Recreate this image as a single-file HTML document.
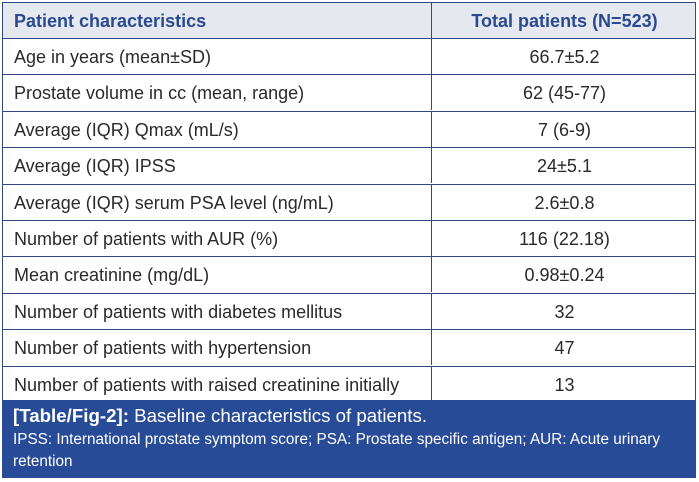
<!DOCTYPE html>
<html><head><style>
body{margin:0;width:699px;height:482px;background:#fff;font-family:"Liberation Sans",sans-serif;position:relative;overflow:hidden}
.r{position:absolute;left:2px;width:694px;height:36px;border-top:1px solid #2d4a86;box-sizing:border-box;font-size:18px;color:#2a2a2a}
.r div{position:absolute;top:0;line-height:36px;white-space:nowrap}
.a{left:12px}
.b{left:429px;width:265px;text-align:center;border-left:1px solid #2d4a86;height:35px}
.h{background:#e6e8f0;color:#2a4a90;font-weight:bold}
#frame{position:absolute;left:2px;top:2px;width:694px;height:398px;border-left:1px solid #2d4a86;border-right:1px solid #2d4a86;box-sizing:border-box}
.cap{position:absolute;left:2px;top:400px;width:694px;height:78px;background:#284b97;color:#fff;box-sizing:border-box;padding:3px 10px 0 11px}
</style></head><body>
<div class="r h" style="top:2px"><div class="a">Patient characteristics</div><div class="b">Total patients (N=523)</div></div>
<div class="r" style="top:38px"><div class="a">Age in years (mean±SD)</div><div class="b">66.7±5.2</div></div>
<div class="r" style="top:74.4px"><div class="a">Prostate volume in cc (mean, range)</div><div class="b">62 (45-77)</div></div>
<div class="r" style="top:110.8px"><div class="a">Average (IQR) Qmax (mL/s)</div><div class="b">7 (6-9)</div></div>
<div class="r" style="top:147.2px"><div class="a">Average (IQR) IPSS</div><div class="b">24±5.1</div></div>
<div class="r" style="top:183.6px"><div class="a">Average (IQR) serum PSA level (ng/mL)</div><div class="b">2.6±0.8</div></div>
<div class="r" style="top:220px"><div class="a">Number of patients with AUR (%)</div><div class="b">116 (22.18)</div></div>
<div class="r" style="top:256.4px"><div class="a">Mean creatinine (mg/dL)</div><div class="b">0.98±0.24</div></div>
<div class="r" style="top:292.8px"><div class="a">Number of patients with diabetes mellitus</div><div class="b">32</div></div>
<div class="r" style="top:329.2px"><div class="a">Number of patients with hypertension</div><div class="b">47</div></div>
<div class="r" style="top:365.6px"><div class="a">Number of patients with raised creatinine initially</div><div class="b">13</div></div>
<div id="frame"></div>
<div class="cap"><div style="font-size:18.7px;line-height:26px"><b>[Table/Fig-2]:</b> Baseline characteristics of patients.</div><div style="font-size:15.3px;line-height:22px">IPSS: International prostate symptom score; PSA: Prostate specific antigen; AUR: Acute urinary retention</div></div>
</body></html>
